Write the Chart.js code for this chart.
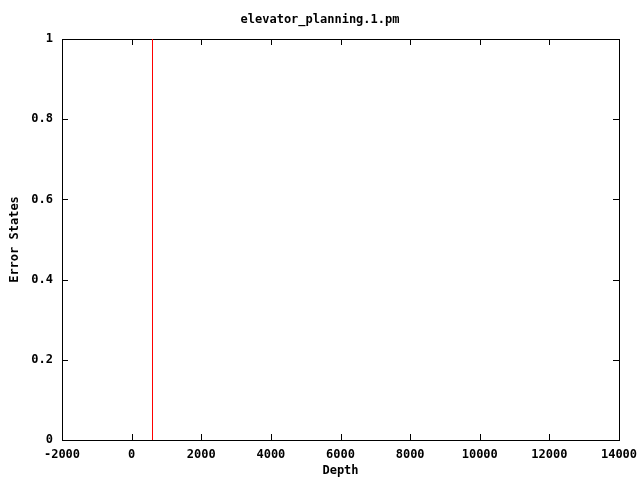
<!DOCTYPE html>
<html>
<head>
<meta charset="utf-8">
<script src="https://cdn.jsdelivr.net/npm/chart.js@4"></script>
<style>
html,body{margin:0;padding:0;background:#fff;}
#wrap{width:640px;height:480px;position:relative;}
</style>
</head>
<body>
<div id="wrap"><canvas id="c" width="640" height="480"></canvas></div>
<script>
const chartTitle = "elevator_planning.1.pm";
const xAxisTitle = "Depth";
const yAxisTitle = "Error States";
const seriesX = [600, 600];
const seriesY = [0, 1];
const xTickValues = [-2000, 0, 2000, 4000, 6000, 8000, 10000, 12000, 14000];
const xTickLabels = ["-2000", "0", "2000", "4000", "6000", "8000", "10000", "12000", "14000"];
const yTickValues = [0, 0.2, 0.4, 0.6, 0.8, 1];
const yTickLabels = ["0", "0.2", "0.4", "0.6", "0.8", "1"];

const FONT = {family: "'DejaVu Sans Mono', monospace", size: 12, weight: 'bold'};

function labelFor(values, labels, v) {
  for (let i = 0; i < values.length; i++) if (Math.abs(values[i] - v) < 1e-9) return labels[i];
  return '';
}

const innerTicks = {
  id: 'innerTicks',
  afterDatasetsDraw(chart) {
    const {ctx, chartArea: a, scales} = chart;
    const L = 6;
    ctx.save();
    ctx.strokeStyle = '#000';
    ctx.lineWidth = 1;
    ctx.beginPath();
    xTickValues.forEach(v => {
      const px = Math.round(scales.x.getPixelForValue(v)) + 0.5;
      if (px <= a.left + 1 || px >= a.right - 1) return;
      ctx.moveTo(px, a.bottom); ctx.lineTo(px, a.bottom - L);
      ctx.moveTo(px, a.top); ctx.lineTo(px, a.top + L);
    });
    yTickValues.forEach(v => {
      const py = Math.round(scales.y.getPixelForValue(v)) + 0.5;
      if (py <= a.top + 1 || py >= a.bottom - 1) return;
      ctx.moveTo(a.left, py); ctx.lineTo(a.left + L, py);
      ctx.moveTo(a.right, py); ctx.lineTo(a.right - L, py);
    });
    ctx.stroke();
    ctx.restore();
  }
};

new Chart(document.getElementById('c'), {
  type: 'scatter',
  data: {
    datasets: [{
      data: seriesX.map((x, i) => ({x: x, y: seriesY[i]})),
      showLine: true,
      borderColor: '#ff0000',
      backgroundColor: '#ff0000',
      borderWidth: 1,
      pointRadius: 0,
      xAxisID: 'x',
      yAxisID: 'y'
    }]
  },
  options: {
    responsive: false,
    animation: false,
    devicePixelRatio: 1,
    layout: {padding: 0},
    plugins: {
      legend: {display: false},
      tooltip: {enabled: false},
      title: {
        display: true,
        text: chartTitle,
        color: '#000',
        font: FONT,
        padding: {top: 13, bottom: 0}
      }
    },
    scales: {
      x: {
        type: 'linear',
        position: 'bottom',
        min: -2000, max: 14000,
        afterBuildTicks(s) { s.ticks = xTickValues.map(v => ({value: v})); },
        afterFit(s) { s.height = 40; s.paddingLeft = 0; s.paddingRight = 0; },
        grid: {display: false, drawTicks: false},
        border: {display: true, color: '#000', width: 1},
        ticks: {
          color: '#000', font: FONT, padding: 8, maxRotation: 0, autoSkip: false,
          callback: v => labelFor(xTickValues, xTickLabels, v)
        },
        title: {display: true, text: xAxisTitle, color: '#000', font: FONT, padding: {top: 0, bottom: 2}}
      },
      x2: {
        type: 'linear',
        position: 'top',
        min: -2000, max: 14000,
        afterFit(s) { s.height = 39 - 27.4; s.paddingLeft = 0; s.paddingRight = 0; },
        grid: {display: false, drawTicks: false},
        border: {display: true, color: '#000', width: 1},
        ticks: {display: false}
      },
      y: {
        type: 'linear',
        position: 'left',
        min: 0, max: 1,
        afterBuildTicks(s) { s.ticks = yTickValues.map(v => ({value: v})); },
        afterFit(s) { s.width = 62; s.paddingTop = 0; s.paddingBottom = 0; },
        grid: {display: false, drawTicks: false},
        border: {display: true, color: '#000', width: 1},
        ticks: {
          color: '#000', font: FONT, padding: 9,
          callback: v => labelFor(yTickValues, yTickLabels, v)
        },
        title: {display: true, text: yAxisTitle, color: '#000', font: FONT, padding: {top: 8, bottom: 0}}
      },
      y2: {
        type: 'linear',
        position: 'right',
        min: 0, max: 1,
        afterFit(s) { s.width = 21; s.paddingTop = 0; s.paddingBottom = 0; },
        grid: {display: false, drawTicks: false},
        border: {display: true, color: '#000', width: 1},
        ticks: {display: false}
      }
    }
  },
  plugins: [innerTicks]
});
</script>
</body>
</html>
